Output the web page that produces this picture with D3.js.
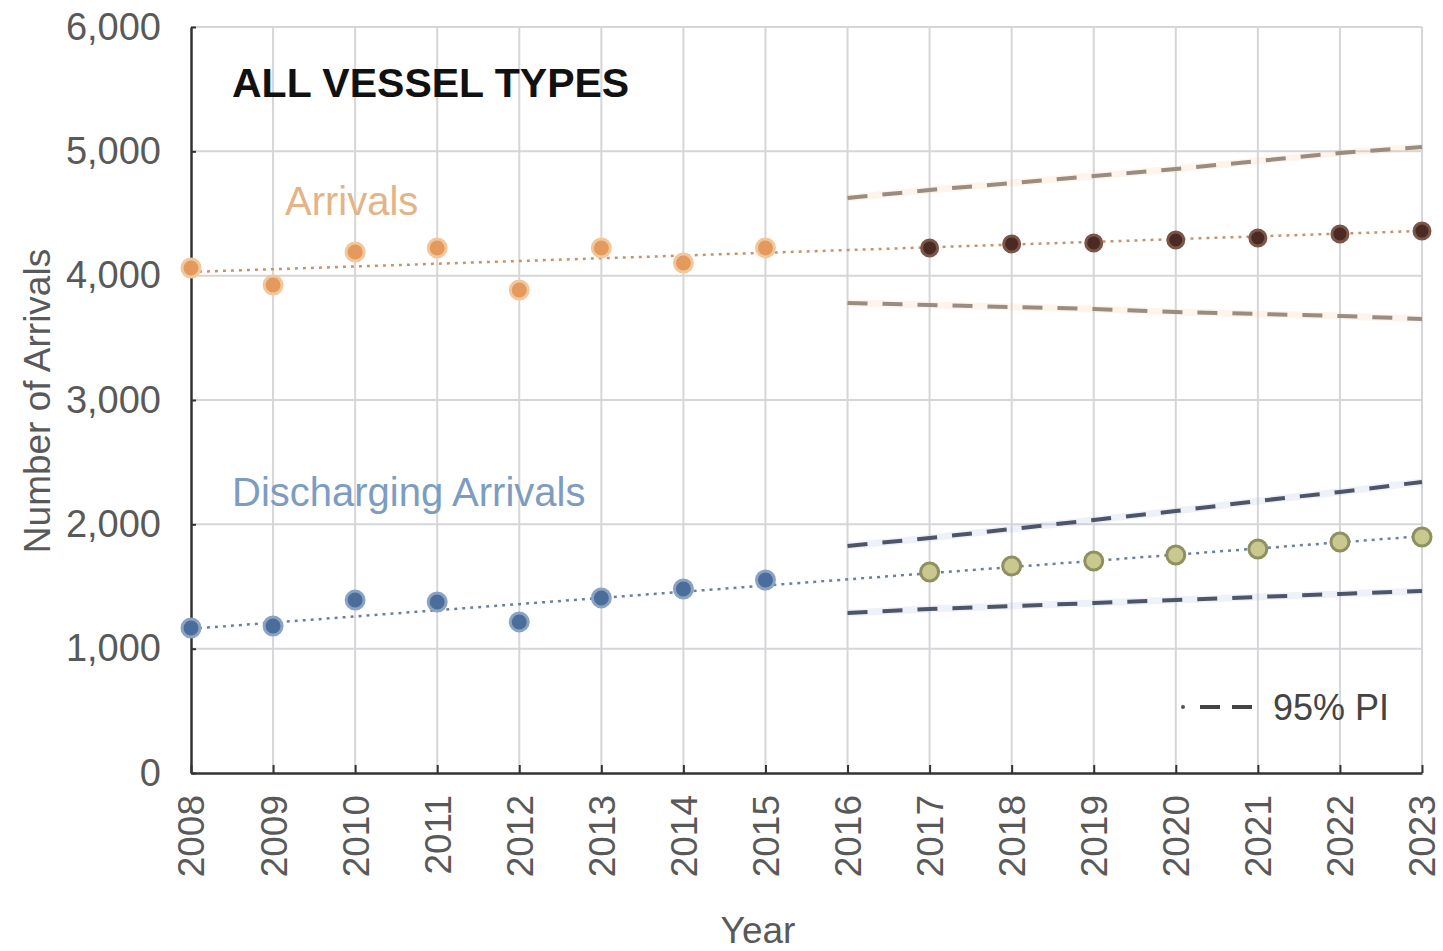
<!DOCTYPE html>
<html>
<head>
<meta charset="utf-8">
<script src="https://cdn.jsdelivr.net/npm/d3@7"></script>
<style>
  body { margin: 0; background: #fff; }
  svg text { font-family: "Liberation Sans", Arial, sans-serif; }
</style>
</head>
<body>
<div class="render"></div>
<script>
// observed years and forecast years
var obsYears = [2008, 2009, 2010, 2011, 2012, 2013, 2014, 2015];
var fcYears = [2017, 2018, 2019, 2020, 2021, 2022, 2023];
var piYears = [2016, 2017, 2018, 2019, 2020, 2021, 2022, 2023];
var xTicks = [2008, 2009, 2010, 2011, 2012, 2013, 2014, 2015, 2016, 2017, 2018, 2019, 2020, 2021, 2022, 2023];
var yTicks = [0, 1000, 2000, 3000, 4000, 5000, 6000];

// all arrivals
var arrObs = [4062, 3925, 4190, 4223, 3885, 4223, 4102, 4223];
var arrFc = [4223, 4255, 4263, 4287, 4303, 4335, 4359];
var arrTrend = [[2008, 4030], [2023, 4360]];
var arrUpper = [4625, 4689, 4745, 4802, 4858, 4922, 4987, 5035];
var arrLower = [3780, 3764, 3748, 3732, 3708, 3692, 3676, 3652];

// discharging arrivals
var disObs = [1166, 1182, 1391, 1375, 1215, 1408, 1480, 1552];
var disFc = [1617, 1665, 1705, 1753, 1802, 1858, 1898];
var disTrend = [[2008, 1160], [2023, 1905]];
var disUpper = [1826, 1890, 1962, 2035, 2107, 2188, 2260, 2341];
var disLower = [1287, 1319, 1343, 1367, 1391, 1416, 1440, 1464];

function draw() {
   var w = 1443, h = 951;
   var pLeft = 191, pRight = 1422, pTop = 27, pBottom = 773;

   var svg = d3.select(".render").append("svg").attr("width", w).attr("height", h);

   var x = d3.scaleLinear().domain([2008, 2023]).range([pLeft, pRight]);
   var y = d3.scaleLinear().domain([0, 6000]).range([pBottom, pTop]);

   // grid
   svg.append("g").selectAll("line").data(xTicks.slice(1)).enter().append("line")
      .attr("x1", function (d) { return x(d); }).attr("x2", function (d) { return x(d); })
      .attr("y1", pTop).attr("y2", pBottom)
      .attr("stroke", "#d6d6da").attr("stroke-width", 2);
   svg.append("g").selectAll("line").data(yTicks.slice(1)).enter().append("line")
      .attr("x1", pLeft).attr("x2", pRight)
      .attr("y1", function (d) { return y(d); }).attr("y2", function (d) { return y(d); })
      .attr("stroke", "#d6d6da").attr("stroke-width", 2);

   // axes
   var yAxis = d3.axisLeft(y).tickValues(yTicks).tickSize(-5).tickSizeOuter(0).tickPadding(30).tickFormat(d3.format(","));
   var xAxis = d3.axisBottom(x).tickValues(xTicks).tickSize(-8).tickSizeOuter(0).tickFormat(d3.format("d"));

   var gy = svg.append("g").attr("transform", "translate(" + pLeft + ",0)").call(yAxis);
   gy.select(".domain").attr("stroke", "#333").attr("stroke-width", 2.5);
   gy.selectAll(".tick line").attr("stroke", "#333").attr("stroke-width", 2);
   gy.selectAll(".tick text").attr("fill", "#595959").style("font-size", "38px");

   var gx = svg.append("g").attr("transform", "translate(0," + pBottom + ")").call(xAxis);
   gx.select(".domain").attr("stroke", "#333").attr("stroke-width", 2.5);
   gx.selectAll(".tick line").attr("stroke", "#333").attr("stroke-width", 2);
   gx.selectAll(".tick text").attr("fill", "#595959").style("font-size", "37px")
      .attr("text-anchor", "end").attr("dy", "0.35em")
      .attr("transform", "translate(0,22) rotate(-90)").attr("x", 0).attr("y", 0);

   // axis titles
   svg.append("text").text("Year").attr("x", 758).attr("y", 943).attr("text-anchor", "middle")
      .attr("fill", "#595959").style("font-size", "37px");
   svg.append("text").text("Number of Arrivals").attr("transform", "translate(50,401) rotate(-90)")
      .attr("text-anchor", "middle").attr("fill", "#595959").style("font-size", "37px");

   var line = d3.line().x(function (d) { return x(d[0]); }).y(function (d) { return y(d[1]); });
   function pairs(years, vals) { return years.map(function (yr, i) { return [yr, vals[i]]; }); }

   // prediction interval lines
   function piLine(vals, halo, col) {
      var pts = pairs(piYears, vals);
      svg.append("path").datum(pts).attr("d", line).attr("fill", "none")
         .attr("stroke", halo).attr("stroke-width", 7).attr("stroke-opacity", 0.18);
      svg.append("path").datum(pts).attr("d", line).attr("fill", "none")
         .attr("stroke", col).attr("stroke-width", 4).attr("stroke-dasharray", "20,15");
   }
   piLine(arrUpper, "#f5c490", "#9a8c7e");
   piLine(arrLower, "#f5c490", "#9a8c7e");
   piLine(disUpper, "#9fb3d0", "#4d5668");
   piLine(disLower, "#9fb3d0", "#4d5668");

   // trend lines
   svg.append("path").datum(arrTrend).attr("d", line).attr("fill", "none")
      .attr("stroke", "#c9926a").attr("stroke-width", 2.5).attr("stroke-dasharray", "3,5");
   svg.append("path").datum(disTrend).attr("d", line).attr("fill", "none")
      .attr("stroke", "#6b80a0").attr("stroke-width", 2.5).attr("stroke-dasharray", "3,5");

   // points
   function dots(years, vals, fill, stroke, r) {
      svg.append("g").selectAll("circle").data(pairs(years, vals)).enter().append("circle")
         .attr("cx", function (d) { return x(d[0]); }).attr("cy", function (d) { return y(d[1]); })
         .attr("r", r).attr("fill", fill).attr("stroke", stroke).attr("stroke-width", 3);
   }
   dots(obsYears, arrObs, "#e39a5c", "#f3c79c", 9);
   dots(fcYears, arrFc, "#4a2a22", "#7a5548", 8);
   dots(obsYears, disObs, "#4a6d9b", "#8aa3c3", 9);
   dots(fcYears, disFc, "#c9c88e", "#8e9060", 9);

   // annotations
   svg.append("text").text("ALL VESSEL TYPES").attr("x", 232).attr("y", 97)
      .attr("fill", "#111").style("font-size", "41px").style("font-weight", "bold");
   svg.append("text").text("Arrivals").attr("x", 285).attr("y", 215)
      .attr("fill", "#e3b485").style("font-size", "40px");
   svg.append("text").text("Discharging Arrivals").attr("x", 232).attr("y", 506)
      .attr("fill", "#7d9cc2").style("font-size", "40px");

   // legend
   svg.append("circle").attr("cx", 1183).attr("cy", 707).attr("r", 2).attr("fill", "#555");
   svg.append("line").attr("x1", 1200).attr("x2", 1255).attr("y1", 707).attr("y2", 707)
      .attr("stroke", "#444").attr("stroke-width", 4).attr("stroke-dasharray", "20,12");
   svg.append("text").text("95% PI").attr("x", 1273).attr("y", 720)
      .attr("fill", "#444").style("font-size", "36px");
}
draw();
</script>
</body>
</html>
